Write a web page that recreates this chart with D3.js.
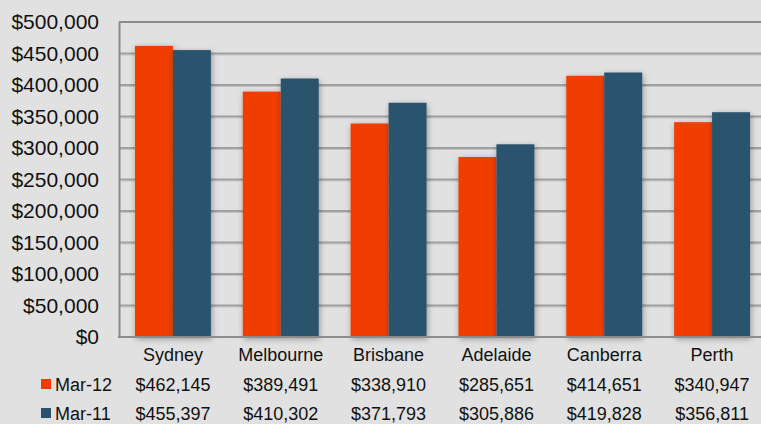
<!DOCTYPE html>
<html><head><meta charset="utf-8">
<script src="https://cdn.jsdelivr.net/npm/d3@7"></script>
<style>
html,body{margin:0;padding:0;background:#e1e1e1;}
svg{display:block;font-family:"Liberation Sans",Arial,sans-serif;}
</style></head>
<body>
<svg id="chart" width="761" height="424"></svg>
<script>
const categories = ["Sydney","Melbourne","Brisbane","Adelaide","Canberra","Perth"];
const seriesNames = ["Mar-12","Mar-11"];
const mar12 = [462145,389491,338910,285651,414651,340947];
const mar11 = [455397,410302,371793,305886,419828,356811];
const seriesColors = ["#f23c00","#2a526e"];
const yTicks = [0,50000,100000,150000,200000,250000,300000,350000,400000,450000,500000];

const seriesValues = [mar12, mar11];
const svg = d3.select("#chart");
const W = 761, H = 424;
const plot = {left:119, right:766, top:22, bottom:337};

svg.append("rect").attr("width",W).attr("height",H).attr("fill","#e1e1e1");

const defs = svg.append("defs");
const f = defs.append("filter").attr("id","shadow").attr("x","-30%").attr("y","-10%").attr("width","160%").attr("height","130%");
f.append("feGaussianBlur").attr("in","SourceAlpha").attr("stdDeviation",3).attr("result","b");
f.append("feOffset").attr("in","b").attr("dx",1).attr("dy",2).attr("result","o");
f.append("feComponentTransfer").attr("in","o").attr("result","s").append("feFuncA").attr("type","linear").attr("slope",0.35);
const m = f.append("feMerge"); m.append("feMergeNode").attr("in","s"); m.append("feMergeNode").attr("in","SourceGraphic");

const y = d3.scaleLinear().domain([0,500000]).range([plot.bottom, plot.top]);
const x0 = d3.scaleBand().domain(categories).range([plot.left, plot.right]).padding(0);
const x1 = d3.scaleBand().domain(seriesNames).range([0, x0.bandwidth()]).paddingInner(0).paddingOuter(0.42);
const fmt = d => "$" + d3.format(",")(d);

// gridlines
const grid = svg.append("g");
yTicks.filter(t => t>0 && t<500000).forEach(t => {
  grid.append("line").attr("x1",plot.left).attr("x2",plot.right).attr("y1",y(t)+1.5).attr("y2",y(t)+1.5)
    .attr("stroke","#c4c4c4").attr("stroke-width",1);
  grid.append("line").attr("x1",plot.left).attr("x2",plot.right).attr("y1",y(t)).attr("y2",y(t))
    .attr("stroke","#a0a0a0").attr("stroke-width",2);
});
// top border
svg.append("line").attr("x1",plot.left).attr("x2",plot.right).attr("y1",plot.top).attr("y2",plot.top)
  .attr("stroke","#8c8c8c").attr("stroke-width",2);

// bars
const groups = svg.append("g").selectAll("g").data(categories).join("g")
  .attr("transform", d => `translate(${x0(d)},0)`);
groups.selectAll("rect").data((c,i) => seriesNames.map((s,j) => ({s, v: seriesValues[j][i], j})))
  .join("rect")
  .attr("x", d => x1(d.s)).attr("width", x1.bandwidth())
  .attr("y", d => y(d.v)).attr("height", d => y(0) - y(d.v))
  .attr("fill", d => seriesColors[d.j])
  .attr("filter","url(#shadow)");

// axes
const yAxis = svg.append("g").attr("transform",`translate(${plot.left},0)`)
  .call(d3.axisLeft(y).tickValues(yTicks).tickFormat(fmt).tickSize(0).tickPadding(20));
yAxis.select(".domain").attr("stroke","#8c8c8c").attr("stroke-width",2);
yAxis.selectAll("text").attr("font-size",21).attr("fill","#111").attr("font-family","Liberation Sans, Arial, sans-serif");

svg.append("line").attr("x1",plot.left-1).attr("x2",plot.right).attr("y1",plot.bottom).attr("y2",plot.bottom)
  .attr("stroke","#8c8c8c").attr("stroke-width",2);

const xAxis = svg.append("g").attr("transform",`translate(0,${plot.bottom})`)
  .call(d3.axisBottom(x0).tickSize(0).tickPadding(0));
xAxis.select(".domain").remove();
xAxis.selectAll("text").attr("font-size",18).attr("fill","#111").attr("dy",null).attr("y",24)
  .attr("font-family","Liberation Sans, Arial, sans-serif");

// data table
const rowY = [391, 420];
seriesNames.forEach((s,j) => {
  svg.append("rect").attr("x",41).attr("y",rowY[j]-12).attr("width",10).attr("height",10).attr("fill",seriesColors[j]);
  svg.append("text").attr("x",55).attr("y",rowY[j]).attr("font-size",18).attr("fill","#111").text(s);
  svg.append("g").selectAll("text").data(categories).join("text")
    .attr("x", c => x0(c) + x0.bandwidth()/2).attr("y", rowY[j])
    .attr("text-anchor","middle").attr("font-size",18).attr("fill","#111")
    .text((c,i) => fmt(seriesValues[j][i]));
});
</script>
</body></html>
